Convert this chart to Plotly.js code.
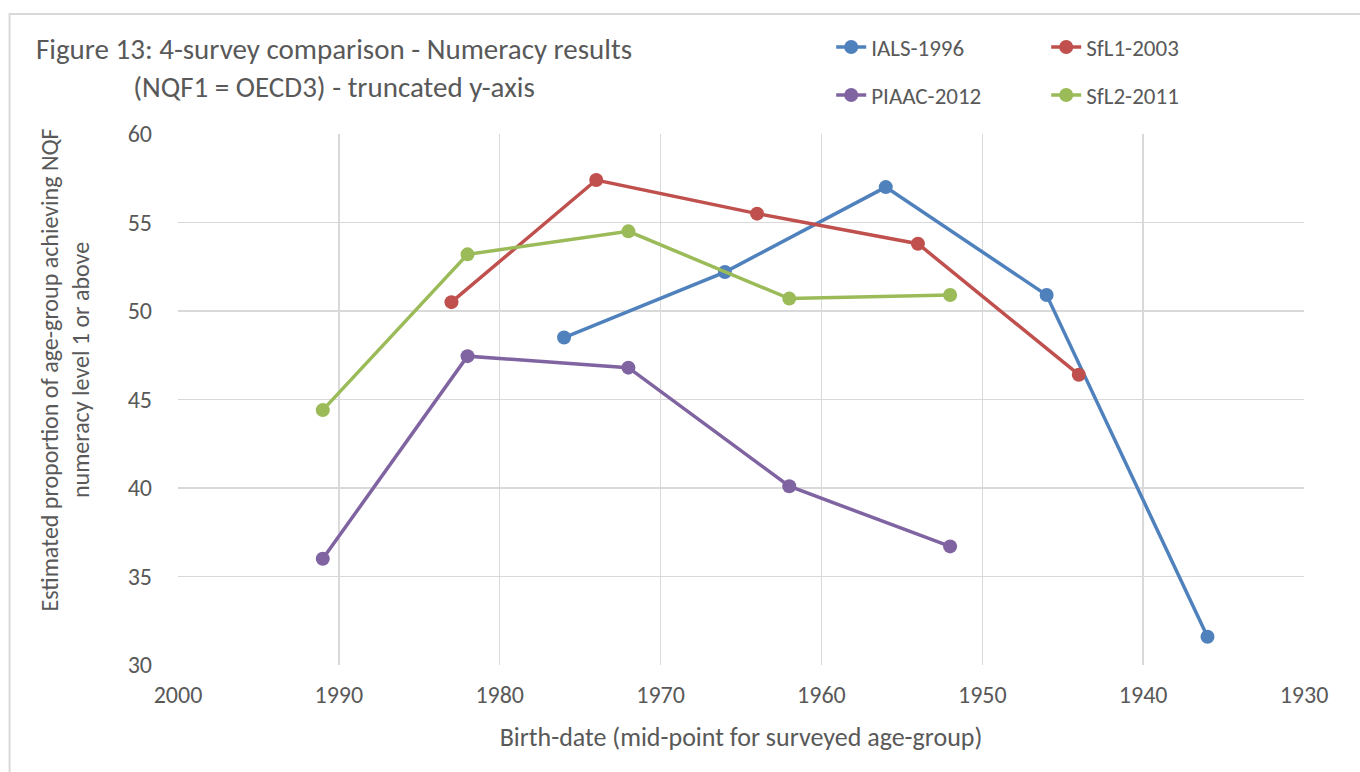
<!DOCTYPE html>
<html>
<head>
<meta charset="utf-8">
<script src="https://cdn.plot.ly/plotly-3.0.1.min.js"></script>
<style>
  html, body { margin: 0; padding: 0; background: #ffffff; }
  #chart { width: 1360px; height: 772px; }
</style>
</head>
<body>
<div id="chart"></div>
<script>
// ---- data ----
const seriesNames = ["IALS-1996", "SfL1-2003", "PIAAC-2012", "SfL2-2011"];

const yearsIALS = [1976, 1966, 1956, 1946, 1936];
const valuesIALS = [48.5, 52.2, 57.0, 50.9, 31.6];

const yearsSfL1 = [1983, 1974, 1964, 1954, 1944];
const valuesSfL1 = [50.5, 57.4, 55.5, 53.8, 46.4];

const yearsPIAAC = [1991, 1982, 1972, 1962, 1952];
const valuesPIAAC = [36.0, 47.45, 46.8, 40.1, 36.7];

const yearsSfL2 = [1991, 1982, 1972, 1962, 1952];
const valuesSfL2 = [44.4, 53.2, 54.5, 50.7, 50.9];

const titleText = "Figure 13: 4-survey comparison - Numeracy results<br>(NQF1 = OECD3) - truncated y-axis";
const xTitleText = "Birth-date (mid-point for surveyed age-group)";
const yTitleText = "Estimated proportion of age-group achieving NQF<br>numeracy level 1 or above";

// ---- styling ----
const FONT = "Carlito, Calibri, Lato, sans-serif";
const TXT = "#595959";
const GRID = "#d9d9d9";
const colors = ["#4f81bd", "#c0504d", "#8064a2", "#9bbb59"];

function mkTrace(x, y, name, color, legend) {
  return {
    type: "scatter", mode: "lines+markers",
    x: x, y: y, name: name, legend: legend,
    line: { color: color, width: 3.5 },
    marker: { color: color, size: 14 },
    hoverinfo: "x+y+name"
  };
}

const traces = [
  mkTrace(yearsIALS, valuesIALS, seriesNames[0], colors[0], "legend"),
  mkTrace(yearsSfL1, valuesSfL1, seriesNames[1], colors[1], "legend"),
  mkTrace(yearsPIAAC, valuesPIAAC, seriesNames[2], colors[2], "legend2"),
  mkTrace(yearsSfL2, valuesSfL2, seriesNames[3], colors[3], "legend2")
];

const mL = 177.5, mR = 56, mT = 134, mB = 107;
const W = 1360, H = 772;
const pw = W - mL - mR, ph = H - mT - mB;
const px2x = p => (p - mL) / pw;
const py2y = p => (H - mB - p) / ph;

const legendCommon = {
  orientation: "h", xref: "paper", yref: "paper",
  xanchor: "left", yanchor: "middle",
  entrywidth: 170, entrywidthmode: "pixels",
  bgcolor: "rgba(0,0,0,0)", borderwidth: 0,
  font: { family: FONT, size: 23, color: TXT },
  itemclick: false, itemdoubleclick: false
};

const layout = {
  width: W, height: H,
  paper_bgcolor: "#ffffff", plot_bgcolor: "#ffffff",
  margin: { l: mL, r: mR, t: mT, b: mB, pad: 0 },
  font: { family: FONT, color: TXT },
  title: {
    text: titleText,
    font: { family: FONT, size: 29, color: TXT },
    xref: "container", yref: "container",
    x: 334 / W, xanchor: "center",
    y: 1 - 59 / H, yanchor: "top"
  },
  showlegend: true,
  legend: Object.assign({}, legendCommon, { x: px2x(831), y: py2y(47) }),
  legend2: Object.assign({}, legendCommon, { x: px2x(831), y: py2y(95) }),
  xaxis: {
    range: [2000, 1930], tick0: 1930, dtick: 10,
    showgrid: true, gridcolor: GRID, gridwidth: 1.5,
    zeroline: false, showline: false, ticks: "",
    ticklabelstandoff: 13,
    tickfont: { family: FONT, size: 24, color: TXT },
    title: {
      text: xTitleText, standoff: 19,
      font: { family: FONT, size: 26, color: TXT }
    },
    fixedrange: true
  },
  yaxis: {
    range: [30, 60], tick0: 30, dtick: 5,
    showgrid: true, gridcolor: GRID, gridwidth: 1.5,
    zeroline: false, showline: false, ticks: "",
    ticklabelstandoff: 25,
    tickfont: { family: FONT, size: 24, color: TXT },
    fixedrange: true
  },
  annotations: [{
    text: yTitleText, textangle: -90,
    xref: "paper", yref: "paper",
    x: px2x(64), y: py2y(370),
    xanchor: "center", yanchor: "middle",
    showarrow: false, align: "center",
    font: { family: FONT, size: 24, color: TXT }
  }],
  shapes: [{
    type: "path", xref: "paper", yref: "paper",
    path: "M " + px2x(9) + " " + py2y(800) + " L " + px2x(9) + " " + py2y(14) + " L " + px2x(1400) + " " + py2y(14),
    line: { color: GRID, width: 2 }, fillcolor: "rgba(0,0,0,0)"
  }]
};

Plotly.newPlot("chart", traces, layout, { displayModeBar: false, staticPlot: true });
</script>
</body>
</html>
